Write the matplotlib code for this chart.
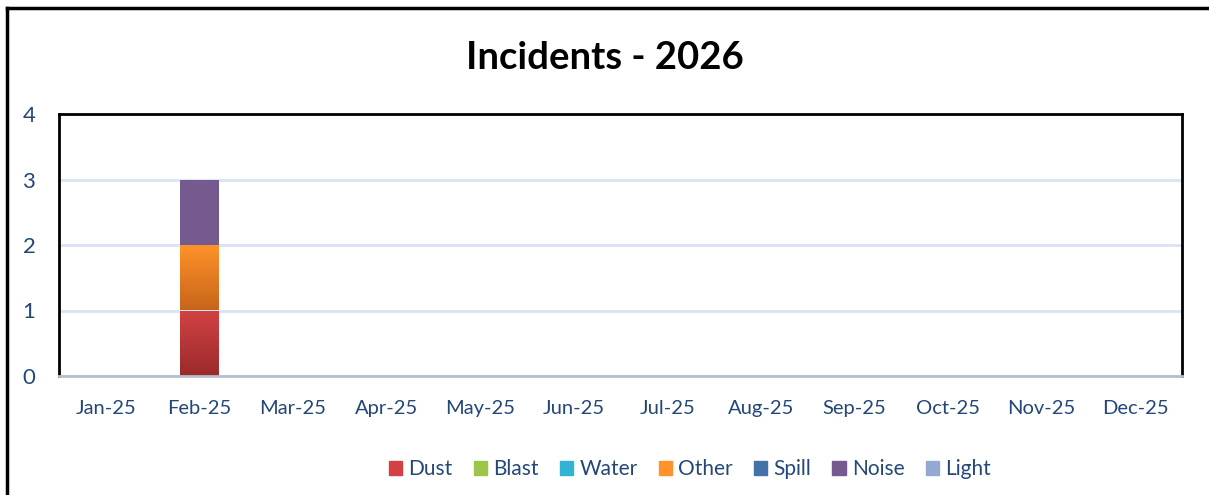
import numpy as np
import matplotlib.pyplot as plt
from matplotlib.lines import Line2D
from matplotlib.colors import LinearSegmentedColormap

months = ["Jan-25", "Feb-25", "Mar-25", "Apr-25", "May-25", "Jun-25",
          "Jul-25", "Aug-25", "Sep-25", "Oct-25", "Nov-25", "Dec-25"]
dust = [0, 1, 0, 0, 0, 0, 0, 0, 0, 0, 0, 0]
blast = [0, 0, 0, 0, 0, 0, 0, 0, 0, 0, 0, 0]
water = [0, 0, 0, 0, 0, 0, 0, 0, 0, 0, 0, 0]
other = [0, 1, 0, 0, 0, 0, 0, 0, 0, 0, 0, 0]
spill = [0, 0, 0, 0, 0, 0, 0, 0, 0, 0, 0, 0]
noise = [0, 1, 0, 0, 0, 0, 0, 0, 0, 0, 0, 0]
light = [0, 0, 0, 0, 0, 0, 0, 0, 0, 0, 0, 0]

series = [("Dust", dust, ("#d24244", "#9b2a2b")),
          ("Blast", blast, ("#9cc54a", "#6f9431")),
          ("Water", water, ("#31b4d4", "#1f8aa5")),
          ("Other", other, ("#ff922a", "#c8651a")),
          ("Spill", spill, ("#4472a8", "#4472a8")),
          ("Noise", noise, ("#745a8e", "#745a8e")),
          ("Light", light, ("#93a9d1", "#93a9d1"))]

plt.rcParams['font.family'] = ['Lato', 'DejaVu Sans']
txt = "#24477a"

fig = plt.figure(figsize=(12.09, 4.95), dpi=100)
ax = fig.add_axes([59 / 1209, 1 - 376 / 495, 1123 / 1209, 262 / 495])

x = np.arange(len(months))
w = 0.41
bottom = np.zeros(len(months))
for name, vals, (c1, c2) in series:
    vals = np.array(vals, dtype=float)
    bars = ax.bar(x, vals, w, bottom=bottom, color=c1, label=name, zorder=2)
    cmap = LinearSegmentedColormap.from_list(name, [c2, c1])
    for b, v in zip(bars, vals):
        if v > 0 and c1 != c2:
            b.set_facecolor("none")
            x0, y0 = b.get_x(), b.get_y()
            im = ax.imshow(np.linspace(0, 1, 64).reshape(-1, 1), cmap=cmap,
                           extent=[x0, x0 + b.get_width(), y0, y0 + b.get_height()],
                           origin="lower", aspect="auto", zorder=2)
            im.set_clip_path(b)
    bottom += vals

ax.set_xlim(-0.5, 11.5)
ax.set_ylim(0, 4)
ax.set_yticks([0, 1, 2, 3, 4])
ax.set_xticks(x)
ax.set_xticklabels(months)
ax.grid(axis="y", color="#d9e3f1", linewidth=2, zorder=0)
ax.tick_params(axis="both", length=0, colors=txt, labelsize=14.5)
ax.tick_params(axis="y", labelsize=16)
ax.tick_params(axis="x", pad=17)
ax.tick_params(axis="y", pad=17)
for s in ["top", "left", "right"]:
    ax.spines[s].set_color("black")
    ax.spines[s].set_linewidth(2)
ax.spines["bottom"].set_color("#b4bfcc")
ax.spines["bottom"].set_linewidth(2)

fig.text(0.5, 1 - 58 / 495, "Incidents - 2026", ha="center", va="center",
         fontsize=27.5, fontweight="bold", color="black")

handles = [plt.Rectangle((0, 0), 1, 1, color=c1) for _, _, (c1, c2) in series]
fig.legend(handles, [s[0] for s in series], loc="center",
           bbox_to_anchor=(690 / 1209, 1 - 469 / 495), ncol=7, frameon=False,
           fontsize=15, handlelength=0.65, handleheight=0.65, handletextpad=0.3,
           columnspacing=1.0, labelcolor=txt)

# outer frame
fig.add_artist(Line2D([7 / 1209, 7 / 1209], [0, 1 - 8 / 495], color="black",
                      linewidth=2.5, transform=fig.transFigure))
fig.add_artist(Line2D([7 / 1209, 1], [1 - 8 / 495, 1 - 8 / 495], color="black",
                      linewidth=2.5, transform=fig.transFigure))

fig.savefig("out.png", dpi=100)
